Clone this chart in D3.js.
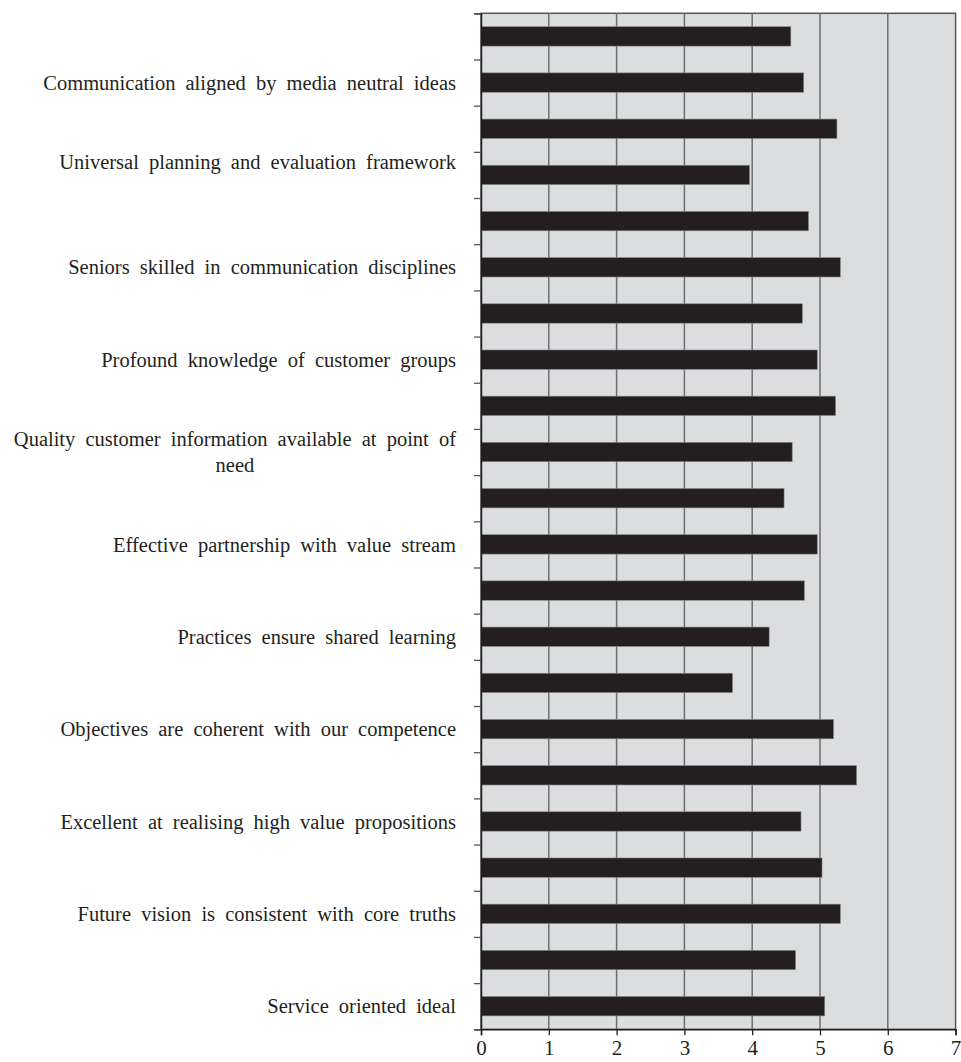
<!DOCTYPE html>
<html>
<head>
<meta charset="utf-8">
<script src="https://cdn.jsdelivr.net/npm/d3@7"></script>
<style>
  body { margin: 0; background: #fff; }
  text { font-family: "Liberation Serif", "Times New Roman", serif; fill: #231f20; }
</style>
</head>
<body>
<script>
const SvgWidth = 961, SvgHeight = 1062;
var margin = {top: 13.3, right: 5.4, bottom: 32.7, left: 481};
var Width = SvgWidth - margin.left - margin.right;
var Height = SvgHeight - margin.top - margin.bottom;

// one label per pair of bars (shown on the second bar of each pair)
var labels = [
  ["Communication aligned by media neutral ideas"],
  ["Universal planning and evaluation framework", ""],
  ["Seniors skilled in communication disciplines"],
  ["Profound knowledge of customer groups"],
  ["Quality customer information available at point of", "need"],
  ["Effective partnership with value stream"],
  ["Practices ensure shared learning"],
  ["Objectives are coherent with our competence"],
  ["Excellent at realising high value propositions"],
  ["Future vision is consistent with core truths"],
  ["Service oriented ideal"]
];
var values = [4.57, 4.76, 5.25, 3.96, 4.83, 5.30, 4.74, 4.96, 5.23, 4.59, 4.47,
              4.96, 4.77, 4.25, 3.71, 5.20, 5.54, 4.72, 5.03, 5.30, 4.64, 5.07];
var xTicks = [0, 1, 2, 3, 4, 5, 6, 7];

var svg = d3.select('body')
  .append('svg')
  .attr('width', SvgWidth)
  .attr('height', SvgHeight)
  .style('background-color', 'white');
var g = svg.append('g')
  .attr("transform", 'translate(' + margin.left + "," + margin.top + ")");

var x = d3.scaleLinear().domain([0, 7]).range([0, Width]);
var y = d3.scaleBand().domain(d3.range(values.length)).range([0, Height]).paddingInner(0.58).paddingOuter(0.29);

// plot background
g.append("rect")
  .attr("width", Width).attr("height", Height)
  .attr("fill", "#dcdddf")
  .attr("stroke", "#555").attr("stroke-width", 1.5);

// vertical gridlines
g.selectAll(".grid")
  .data(xTicks.slice(1, -1))
  .enter().append("line")
  .attr("x1", function(d) { return x(d); })
  .attr("x2", function(d) { return x(d); })
  .attr("y1", 0).attr("y2", Height)
  .attr("stroke", "#6d6e71").attr("stroke-width", 1.5);

// bars
g.selectAll(".bar")
  .data(values)
  .enter().append("rect")
  .attr("class", "bar")
  .attr("fill", "#231f20")
  .attr("stroke", "#8a8a8a").attr("stroke-width", 0.6)
  .attr("x", 0)
  .attr("y", function(d, i) { return y(i); })
  .attr("width", function(d) { return x(d); })
  .attr("height", y.bandwidth());

// left axis with tick at every bar boundary
var yEdge = d3.scaleLinear().domain([0, values.length]).range([0, Height]);
var yAxis = g.append("g")
  .call(d3.axisLeft(yEdge).tickValues(d3.range(values.length + 1)).tickSize(7).tickFormat(""));
yAxis.select(".domain").attr("stroke", "#231f20").attr("stroke-width", 1.5);
yAxis.selectAll(".tick line").attr("stroke", "#555").attr("stroke-width", 1.3);

// bottom axis
var xAxis = g.append("g")
  .attr("transform", "translate(0," + Height + ")")
  .call(d3.axisBottom(x).tickValues(xTicks).tickSize(6).tickFormat(d3.format("d")));
xAxis.select(".domain").attr("stroke", "#231f20").attr("stroke-width", 1.5);
xAxis.selectAll(".tick line").attr("stroke", "#231f20").attr("stroke-width", 1.3);
xAxis.selectAll(".tick text")
  .style("font-family", '"Liberation Serif", serif')
  .attr("font-size", 21).attr("fill", "#231f20")
  .attr("y", 26).attr("dy", 0);

// category labels
var lineH = 26;
var lab = g.selectAll(".lab")
  .data(labels)
  .enter().append("text")
  .attr("class", "lab")
  .attr("text-anchor", "middle")
  .attr("font-size", 20.5)
  .style("word-spacing", "5px")
  .attr("transform", function(d, i) {
    var cy = y(2 * i + 1) + y.bandwidth() / 2;
    return "translate(0," + (cy - (d.length - 1) * lineH / 2) + ")";
  });
lab.each(function(d) {
  var t = d3.select(this);
  var spans = t.selectAll("tspan").data(d).enter().append("tspan")
    .attr("x", 0)
    .attr("y", function(s, k) { return k * lineH; })
    .attr("dy", "0.35em")
    .text(function(s) { return s; });
  // right-align the block, centre its lines inside it
  var w = d3.max(spans.nodes(), function(n) { return n.getComputedTextLength(); });
  spans.attr("x", -25 - w / 2);
});
</script>
</body>
</html>
